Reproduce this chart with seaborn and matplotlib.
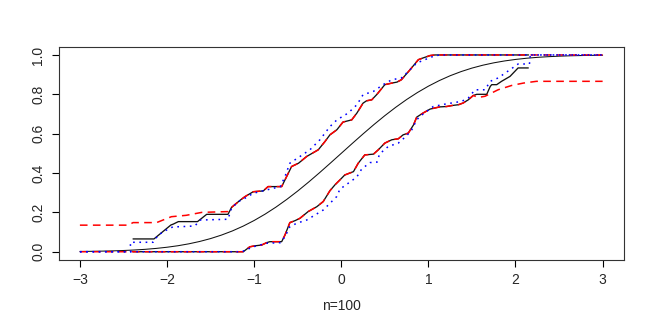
import matplotlib
matplotlib.use('Agg')  # no display
import matplotlib.pyplot as plt
import seaborn as sns

# theoretical N(0,1) cdf, read at 0.125 steps
norm_x = [-3, -2.875, -2.75, -2.625, -2.5, -2.375, -2.25, -2.125, -2, -1.875, -1.75, -1.625,
          -1.5, -1.375, -1.25, -1.125, -1, -0.875, -0.75, -0.625, -0.5, -0.375, -0.25, -0.125, 0,
          0.125, 0.25, 0.375, 0.5, 0.625, 0.75, 0.875, 1, 1.125, 1.25, 1.375, 1.5,
          1.625, 1.75, 1.875, 2, 2.125, 2.25, 2.375, 2.5, 2.625, 2.75, 2.875, 3]
norm_y = [0.0013, 0.0020, 0.0030, 0.0043, 0.0062, 0.0088, 0.0122, 0.0168, 0.0228, 0.0304, 0.0401, 0.0521,
          0.0668, 0.0846, 0.1056, 0.1303, 0.1587, 0.1908, 0.2266, 0.2660, 0.3085, 0.3538, 0.4013, 0.4503, 0.5,
          0.5497, 0.5987, 0.6462, 0.6915, 0.7340, 0.7734, 0.8092, 0.8413, 0.8697, 0.8944, 0.9154, 0.9332,
          0.9479, 0.9599, 0.9696, 0.9772, 0.9832, 0.9878, 0.9912, 0.9938, 0.9957, 0.9970, 0.9980, 0.9987]

# black solid band
black_up_x = [-2.39, -2.15, -1.955, -1.93, -1.87, -1.65, -1.545, -1.30, -1.26, -1.16, -1.105, -1.01,
              -0.895, -0.84, -0.684, -0.627, -0.57, -0.49, -0.397, -0.264, -0.187, -0.13, -0.05,
              0.02, 0.12, 0.18, 0.25, 0.29, 0.35, 0.41, 0.50, 0.58, 0.64, 0.69, 0.79, 0.885, 0.94,
              1.02, 1.075, 2.15]
black_up_y = [0.065, 0.065, 0.136, 0.14, 0.153, 0.153, 0.19, 0.19, 0.225, 0.262, 0.28, 0.305,
              0.309, 0.331, 0.331, 0.382, 0.433, 0.45, 0.484, 0.518, 0.56, 0.594, 0.62,
              0.659, 0.67, 0.705, 0.755, 0.767, 0.772, 0.80, 0.849, 0.857, 0.862, 0.874, 0.925, 0.976, 0.985,
              0.997, 1.0, 1.0]
black_lo_x = [-2.39, -1.125, -1.05, -0.99, -0.914, -0.857, -0.82, -0.684, -0.646, -0.59, -0.53, -0.474,
              -0.38, -0.28, -0.207, -0.13, -0.072, -0.015, 0.04, 0.14, 0.195, 0.27, 0.37, 0.425, 0.50,
              0.58, 0.655, 0.71, 0.77, 0.83, 0.866, 0.94, 1.02, 1.13, 1.21, 1.27, 1.345, 1.40, 1.458,
              1.515, 1.555, 1.67, 1.71, 1.727, 1.784, 1.84, 1.937, 2.03, 2.147]
black_lo_y = [0, 0, 0.025, 0.03, 0.034, 0.046, 0.051, 0.051, 0.085, 0.148, 0.158, 0.17,
              0.204, 0.229, 0.255, 0.31, 0.34, 0.365, 0.39, 0.407, 0.45, 0.492, 0.496, 0.518, 0.552,
              0.569, 0.574, 0.594, 0.603, 0.645, 0.684, 0.705, 0.725, 0.736, 0.738, 0.743, 0.747, 0.756, 0.772,
              0.794, 0.80, 0.80, 0.84, 0.849, 0.849, 0.866, 0.891, 0.934, 0.934]

# red dashed band: own tails, follows the black band in the middle
red_up_tail_x = [-3, -2.445, -2.39, -2.12, -1.95, -1.78, -1.60, -1.30]
red_up_tail_y = [0.135, 0.135, 0.148, 0.148, 0.178, 0.185, 0.20, 0.204]
red_lo_tail_x = [1.573, 1.65, 1.80, 1.956, 2.09, 2.24, 3]
red_lo_tail_y = [0.784, 0.79, 0.823, 0.845, 0.857, 0.866, 0.866]

# blue dotted band
blue_up_x = [-3, -2.42, -2.42, -2.16, -2.10, -2.02, -1.93, -1.85, -1.68, -1.62, -1.30, -1.26, -1.18,
             -1.105, -1.01, -0.857, -0.70, -0.646, -0.59, -0.474, -0.36, -0.245, -0.13, -0.05, 0.08,
             0.18, 0.25, 0.37, 0.48, 0.58, 0.69, 0.75, 0.866, 0.96, 1.056, 1.13, 3]
blue_up_y = [0, 0, 0.048, 0.048, 0.085, 0.107, 0.127, 0.127, 0.131, 0.161, 0.165, 0.221, 0.255,
             0.272, 0.297, 0.314, 0.331, 0.382, 0.45, 0.484, 0.518, 0.569, 0.636, 0.67, 0.705,
             0.747, 0.798, 0.815, 0.849, 0.874, 0.883, 0.908, 0.959, 0.976, 0.993, 1.0, 1.0]
blue_lo_x = [-3, -1.14, -1.01, -0.857, -0.70, -0.646, -0.59, -0.51, -0.397, -0.30, -0.207, -0.13,
             -0.053, -0.015, 0.08, 0.177, 0.234, 0.33, 0.41, 0.44, 0.54, 0.655, 0.75, 0.81, 0.866,
             0.94, 1.056, 1.19, 1.27, 1.38, 1.458, 1.535, 1.65, 1.71, 1.80, 1.937, 2.03, 2.16, 2.17, 3]
blue_lo_y = [0, 0, 0.025, 0.043, 0.046, 0.076, 0.127, 0.145, 0.161, 0.187, 0.212, 0.246,
             0.28, 0.318, 0.348, 0.379, 0.42, 0.453, 0.455, 0.497, 0.535, 0.552, 0.589, 0.62, 0.671,
             0.70, 0.738, 0.75, 0.756, 0.764, 0.781, 0.823, 0.823, 0.866, 0.883, 0.925, 0.954, 0.954, 1.0, 1.0]

x_ticks = [-3, -2, -1, 0, 1, 2, 3]
y_ticks = [0.0, 0.2, 0.4, 0.6, 0.8, 1.0]
x_label = "n=100"

red_up_x = red_up_tail_x + black_up_x[8:-1] + [3]
red_up_y = red_up_tail_y + black_up_y[8:-1] + [1.0]
red_lo_x = [-3] + black_lo_x[1:40] + red_lo_tail_x
red_lo_y = [0] + black_lo_y[1:40] + red_lo_tail_y

sns.set_style("white")
plt.rcParams['font.family'] = ['Liberation Sans', 'DejaVu Sans']

fig = plt.figure(figsize=(6.54, 3.16), dpi=100)
ax = fig.add_axes([0.0902, 0.1785, 0.8632, 0.6725])

line_kw = dict(sort=False, estimator=None, ax=ax)
sns.lineplot(x=norm_x, y=norm_y, color='#111111', lw=0.75, **line_kw)
for xs, ys in [(black_up_x, black_up_y), (black_lo_x, black_lo_y)]:
    sns.lineplot(x=xs, y=ys, color='#111111', lw=0.95, **line_kw)
for xs, ys in [(red_up_x, red_up_y), (red_lo_x, red_lo_y)]:
    sns.lineplot(x=xs, y=ys, color='#ff0000', lw=1.1, linestyle=(0, (5, 3.5)), **line_kw)
for xs, ys in [(blue_up_x, blue_up_y), (blue_lo_x, blue_lo_y)]:
    sns.lineplot(x=xs, y=ys, color='#0000ff', lw=1.1, linestyle=(0, (1.1, 3)), **line_kw)

ax.set_xlim(-3.24, 3.24)
ax.set_ylim(-0.04, 1.04)
ax.set_xticks(x_ticks)
ax.set_xticklabels(['\u22123', '\u22122', '\u22121', '0', '1', '2', '3'])
ax.set_yticks(y_ticks)
ax.set_yticklabels([f"{v:.1f}" for v in y_ticks], rotation=90, va='center')
ax.tick_params(axis='both', direction='out', length=5, width=0.8, color='black',
               labelsize=10, pad=5, left=True, bottom=True)
for s in ax.spines.values():
    s.set_color('#333333')
    s.set_linewidth(0.8)
ax.set_xlabel(x_label, fontsize=10, labelpad=8)
ax.set_ylabel('')

fig.savefig('out.png', dpi=100)
